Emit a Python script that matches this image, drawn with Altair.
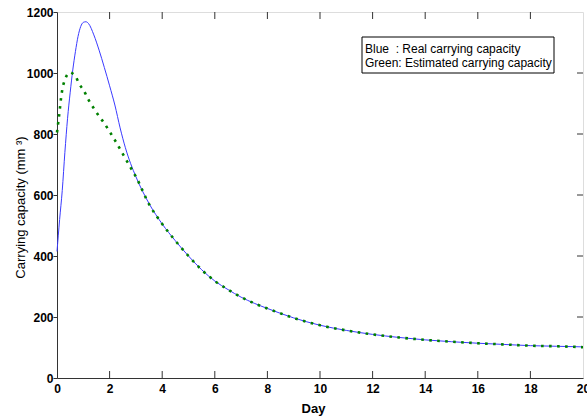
import altair as alt
import pandas as pd

# Real carrying capacity (blue)
blue_day = [0.0, 0.1, 0.2, 0.3, 0.4, 0.5, 0.6, 0.7, 0.8, 0.9, 1.0, 1.1, 1.2, 1.4, 1.6, 1.8,
            2.0, 2.2, 2.4, 2.6, 2.8, 3.0, 3.5, 4.0, 4.5, 5.0, 5.5, 6.0, 6.5, 7.0, 7.5, 8.0,
            9.0, 10.0, 11.0, 12.0, 13.0, 14.0, 15.0, 16.0, 17.0, 18.0, 19.0, 20.0]
blue_val = [415, 520, 615, 740, 850, 935, 1010, 1070, 1120, 1152, 1166, 1168, 1162, 1125, 1075, 1018,
            958, 895, 820, 755, 703, 660, 572, 505, 450, 400, 355, 318, 290, 265, 245, 228,
            197, 173, 156, 143, 133, 125, 119, 114, 110, 106, 104, 102]

# Estimated carrying capacity (green)
green_day = [0.0, 0.05, 0.1, 0.15, 0.2, 0.3, 0.4, 0.5, 0.6, 0.7, 0.8, 0.9, 1.0, 1.2, 1.4, 1.6, 1.8,
             2.0, 2.2, 2.4, 2.6, 2.8, 3.0, 3.5, 4.0, 4.5, 5.0, 5.5, 6.0, 6.5, 7.0, 7.5, 8.0,
             9.0, 10.0, 11.0, 12.0, 13.0, 14.0, 15.0, 16.0, 17.0, 18.0, 19.0, 20.0]
green_val = [805, 840, 875, 915, 945, 978, 996, 1002, 998, 990, 973, 957, 945, 912, 884, 858, 835,
             808, 780, 750, 720, 690, 660, 570, 505, 450, 400, 355, 318, 290, 265, 245, 228,
             197, 173, 156, 143, 133, 125, 119, 114, 110, 106, 104, 101]

x_ticks = [0, 2, 4, 6, 8, 10, 12, 14, 16, 18, 20]
y_ticks = [0, 200, 400, 600, 800, 1000, 1200]
inner_x_ticks = [2, 4, 6, 8, 10, 12, 14, 16, 18]
inner_y_ticks = [200, 400, 600, 800, 1000]
legend_line1 = "Blue\u00a0 : Real carrying capacity"
legend_line2 = "Green: Estimated carrying capacity"

W, H = 526, 366
FONT = "Liberation Sans, Arial, sans-serif"

blue_df = pd.DataFrame({"day": blue_day, "cap": blue_val})
green_df = pd.DataFrame({"day": green_day, "cap": green_val})
xt_df = pd.DataFrame({"t": inner_x_ticks})
yt_df = pd.DataFrame({"t": inner_y_ticks})
one = pd.DataFrame({"a": [0]})

xscale = alt.Scale(domain=[0, 20], nice=False, zero=False)
yscale = alt.Scale(domain=[0, 1200], nice=False)

xaxis = alt.Axis(values=x_ticks, title="Day", grid=False, ticks=False, labelPadding=5, format="d",
                 labelFont=FONT, labelFontSize=12, labelFontWeight="bold", labelColor="black",
                 titleFont=FONT, titleFontSize=13, titleFontWeight="bold", titleColor="black",
                 titleX=256, titleY=30, titleBaseline="middle",
                 domainColor="#333333", labelFlush=False, labelOverlap=False)
yaxis = alt.Axis(values=y_ticks, title="Carrying capacity (mm ³)", grid=False, tickSize=4,
                 tickColor="#333333", labelPadding=0, format="d",
                 labelFont=FONT, labelFontSize=12, labelFontWeight="bold", labelColor="black",
                 titleFont=FONT, titleFontSize=13, titleFontWeight="normal", titleColor="black",
                 titleAngle=270, titleX=-37, titleY=195, titleAlign="center", titleBaseline="middle",
                 domainColor="#333333", labelFlush=False, labelOverlap=False)

blue = alt.Chart(blue_df).mark_line(color="#3a3aff", strokeWidth=1, interpolate="monotone").encode(
    x=alt.X("day:Q", scale=xscale, axis=xaxis),
    y=alt.Y("cap:Q", scale=yscale, axis=yaxis),
)
green = alt.Chart(green_df).mark_line(color="#008000", strokeWidth=2.6, strokeDash=[2.6, 5.4],
                                      strokeCap="butt", interpolate="monotone").encode(
    x=alt.X("day:Q", scale=xscale),
    y=alt.Y("cap:Q", scale=yscale),
)

bottom_ticks = alt.Chart(xt_df).mark_rule(color="#333333", strokeWidth=1).encode(
    x=alt.X("t:Q", scale=xscale), y=alt.value(H), y2=alt.value(H - 7))
top_ticks = alt.Chart(xt_df).mark_rule(color="#333333", strokeWidth=1).encode(
    x=alt.X("t:Q", scale=xscale), y=alt.value(0), y2=alt.value(7))
right_ticks = alt.Chart(yt_df).mark_rule(color="#333333", strokeWidth=1).encode(
    y=alt.Y("t:Q", scale=yscale), x=alt.value(W), x2=alt.value(W - 6))

box = alt.Chart(one).mark_rect(fill="white", stroke="black", strokeWidth=1).encode(
    x=alt.value(305), x2=alt.value(497), y=alt.value(25), y2=alt.value(61))
leg1 = alt.Chart(one).mark_text(align="left", baseline="middle", font=FONT, fontSize=12,
                                color="black", text=legend_line1).encode(
    x=alt.value(308), y=alt.value(37))
leg2 = alt.Chart(one).mark_text(align="left", baseline="middle", font=FONT, fontSize=12,
                                color="black", text=legend_line2).encode(
    x=alt.value(308), y=alt.value(51))

chart = alt.layer(blue, green, bottom_ticks, top_ticks, right_ticks, box, leg1, leg2).properties(
    width=W, height=H,
    autosize=alt.AutoSizeParams(type="none"),
    padding={"left": 57, "top": 12, "right": 4, "bottom": 42},
).configure_view(stroke="#333333", strokeWidth=1).configure(background="white")

chart.save("out.html", embed_options={"renderer": "svg", "actions": False})
